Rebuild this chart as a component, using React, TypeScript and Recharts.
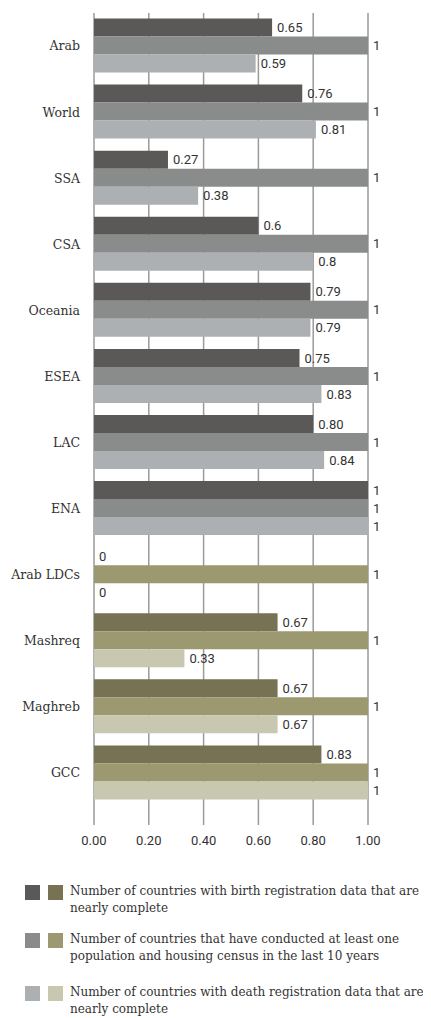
import React from "react";
import { BarChart, Bar, XAxis, YAxis, CartesianGrid, Cell, LabelList } from "recharts";

const categories = ["Arab", "World", "SSA", "CSA", "Oceania", "ESEA", "LAC", "ENA", "Arab LDCs", "Mashreq", "Maghreb", "GCC"];
const birthValues = [0.65, 0.76, 0.27, 0.6, 0.79, 0.75, 0.8, 1, 0, 0.67, 0.67, 0.83];
const censusValues = [1, 1, 1, 1, 1, 1, 1, 1, 1, 1, 1, 1];
const deathValues = [0.59, 0.81, 0.38, 0.8, 0.79, 0.83, 0.84, 1, 0, 0.33, 0.67, 1];
const birthLabels = ["0.65", "0.76", "0.27", "0.6", "0.79", "0.75", "0.80", "1", "0", "0.67", "0.67", "0.83"];
const censusLabels = ["1", "1", "1", "1", "1", "1", "1", "1", "1", "1", "1", "1"];
const deathLabels = ["0.59", "0.81", "0.38", "0.8", "0.79", "0.83", "0.84", "1", "0", "0.33", "0.67", "1"];
const xTicks = [0, 0.2, 0.4, 0.6, 0.8, 1.0];
const oliveGroup = ["Arab LDCs", "Mashreq", "Maghreb", "GCC"];
const legendLabels = [
  ["Number of countries with birth registration data that are", "nearly complete"],
  ["Number of countries that have conducted at least one", "population and housing census in the last 10 years"],
  ["Number of countries with death registration data that are", "nearly complete"],
];

const greyColors = ["#5b5957", "#8a8c8c", "#adb0b2"];
const oliveColors = ["#767253", "#9c986f", "#c8c8b0"];

const data = categories.map((c, i) => ({
  name: c,
  birth: birthValues[i],
  census: censusValues[i],
  death: deathValues[i],
  birthLabel: birthLabels[i],
  censusLabel: censusLabels[i],
  deathLabel: deathLabels[i],
}));

const seriesKeys = ["birth", "census", "death"];

export default function App() {
  return (
    <div style={{ width: 423, overflow: "hidden" }}>
      <BarChart
        width={415}
        height={845}
        data={data}
        layout="vertical"
        margin={{ top: 5, right: 55, bottom: 0, left: 0 }}
        barGap={0}
        barCategoryGap={5.5}
      >
        <CartesianGrid horizontal={false} vertical={true} stroke="#9a9a9a" strokeWidth={1.5} />
        <XAxis
          type="number"
          domain={[0, 1]}
          ticks={xTicks}
          tickFormatter={(v: number) => v.toFixed(2)}
          axisLine={false}
          tickLine={false}
          tickMargin={5}
          height={28}
          tick={{ fontFamily: "Roboto", fontSize: 13, fill: "#333" }}
          interval={0}
        />
        <YAxis
          type="category"
          dataKey="name"
          width={86}
          axisLine={false}
          tickLine={false}
          tickSize={0}
          tickMargin={14}
          padding={{ top: 0, bottom: 19 }}
          interval={0}
          tick={{ fontFamily: "DejaVu Serif", fontSize: 12.5, fill: "#333" }}
        />
        {seriesKeys.map((k, si) => (
          <Bar key={k} dataKey={k} isAnimationActive={false} minPointSize={0.01}>
            {data.map((d, i) => (
              <Cell key={i} fill={oliveGroup.includes(d.name) ? oliveColors[si] : greyColors[si]} />
            ))}
            <LabelList
              dataKey={k + "Label"}
              position="right"
              offset={5}
              style={{ fontFamily: "Roboto", fontSize: 13, fill: "#333" }}
            />
          </Bar>
        ))}
      </BarChart>
      <div style={{ marginTop: 30, fontFamily: "DejaVu Serif", fontSize: 12, color: "#333" }}>
        {legendLabels.map((lines, i) => (
          <div key={i} style={{ display: "flex", alignItems: "flex-start", marginBottom: i === 0 ? 13 : 18, height: 35 }}>
            <div style={{ flexShrink: 0, width: 15, height: 15, background: greyColors[i], marginLeft: 17, marginTop: 2 }} />
            <div style={{ flexShrink: 0, width: 15, height: 15, background: oliveColors[i], marginLeft: 8, marginTop: 2 }} />
            <div style={{ flexShrink: 0, marginLeft: 7, lineHeight: "17px", whiteSpace: "nowrap" }}>
              <div>{lines[0]}</div>
              <div>{lines[1]}</div>
            </div>
          </div>
        ))}
      </div>
    </div>
  );
}
